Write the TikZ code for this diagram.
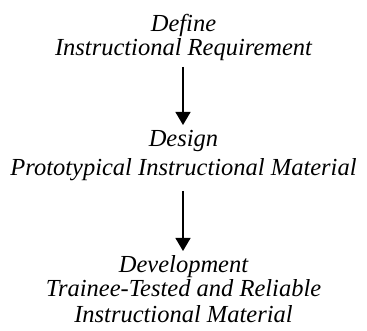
\documentclass[tikz,border=0pt]{standalone}
\usepackage{fontspec}
\setmainfont{Liberation Serif}
\usetikzlibrary{arrows.meta}
\begin{document}
\begin{tikzpicture}[x=1pt,y=1pt,
  stage/.style={align=center,font=\fontsize{24.5}{#1}\selectfont\itshape,inner sep=0pt,anchor=base},
  flow/.style={line width=1.2pt,-{Triangle[width=15pt,length=13pt]}}]
\useasboundingbox (0,0) rectangle (367,-331);
\node[stage=24] (def) at (183.5,-56) {Define\\Instructional Requirement};
\node[stage=29] (des) at (183.5,-176) {Design\\Prototypical Instructional Material};
\node[stage=25] (dev) at (183.5,-322) {Development\\Trainee-Tested and Reliable\\Instructional Material};
\coordinate (a1s) at (183,-67);
\coordinate (a1e) at (183,-125);
\coordinate (a2s) at (183,-191);
\coordinate (a2e) at (183,-251);
\draw[flow] (a1s) -- (a1e);
\draw[flow] (a2s) -- (a2e);
\end{tikzpicture}
\end{document}
